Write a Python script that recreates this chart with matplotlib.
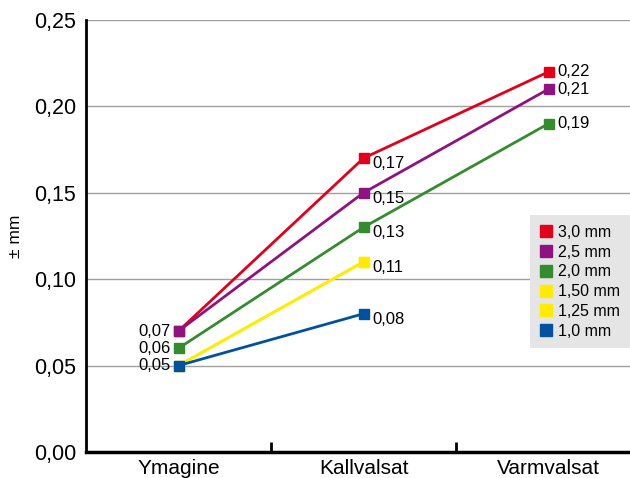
import numpy as np
import matplotlib.pyplot as plt

plt.rcParams['font.family'] = ['Liberation Sans', 'DejaVu Sans']

categories = ['Ymagine', 'Kallvalsat', 'Varmvalsat']
series_names = ['3,0 mm', '2,5 mm', '2,0 mm', '1,50 mm', '1,25 mm', '1,0 mm']
colors = ['#e2001a', '#8e1380', '#358c2e', '#ffec00', '#ffec00', '#00529f']
values = [
    [0.07, 0.17, 0.22],
    [0.07, 0.15, 0.21],
    [0.06, 0.13, 0.19],
    [0.05, 0.11, np.nan],
    [0.05, 0.11, np.nan],
    [0.05, 0.08, np.nan],
]
# which points get a value label on the left (Ymagine)
left_labels = {0: 0.07, 2: 0.06, 5: 0.05}
yticks = [0.00, 0.05, 0.10, 0.15, 0.20, 0.25]

fig = plt.figure(figsize=(6.3, 4.78), dpi=100)
ax = fig.add_axes([0.1365, 0.0544, 0.8635, 0.904])

x = np.arange(len(categories))
for name, col, vals in zip(series_names, colors, values):
    ax.plot(x, vals, color=col, lw=2, marker='s', ms=7, label=name, zorder=3)

# labels at Ymagine (left of marker)
for i, v in left_labels.items():
    ax.annotate(f'{v:.2f}'.replace('.', ','), (0, v), xytext=(-6, 0),
                textcoords='offset points', ha='right', va='center', fontsize=12)

# labels for other points (right of marker)
for j in (1, 2):
    seen = set()
    for vals in values:
        v = vals[j]
        if np.isnan(v) or v in seen:
            continue
        seen.add(v)
        dy = -4 if j == 1 else 0
        ax.annotate(f'{v:.2f}'.replace('.', ','), (j, v), xytext=(6, dy),
                    textcoords='offset points', ha='left', va='center', fontsize=12)

ax.set_ylim(0, 0.25)
ax.set_xlim(-0.5, 2.44)
ax.set_yticks(yticks)
ax.set_yticklabels([f'{t:.2f}'.replace('.', ',') for t in yticks], fontsize=15.5)
ax.yaxis.grid(True, color='#a0a0a0', lw=1)
ax.set_axisbelow(True)
ax.tick_params(axis='y', length=0, pad=7)

ax.set_xticks(x)
ax.set_xticklabels(categories, fontsize=15)
ax.set_xticks([0.5, 1.5], minor=True)
ax.tick_params(axis='x', which='major', length=0, pad=5)
ax.tick_params(axis='x', which='minor', length=7, width=2, direction='in', color='black')

for s in ('top', 'right'):
    ax.spines[s].set_visible(False)
ax.spines['left'].set_linewidth(2)
ax.spines['bottom'].set_linewidth(2.5)

ax.set_ylabel('± mm', fontsize=12.5, labelpad=8)

leg = ax.legend(loc='upper right', bbox_to_anchor=(1.0, 0.548), frameon=True,
                fancybox=False, fontsize=11.5, handlelength=0.8, handletextpad=0.4,
                labelspacing=0.3, borderpad=0.6, borderaxespad=0, markerscale=1.2)
leg.get_frame().set_facecolor('#e5e5e5')
leg.get_frame().set_edgecolor('none')
leg.get_frame().set_alpha(1)
for h in leg.get_lines():
    h.set_linestyle('none')

fig.savefig('out.png', dpi=100)
